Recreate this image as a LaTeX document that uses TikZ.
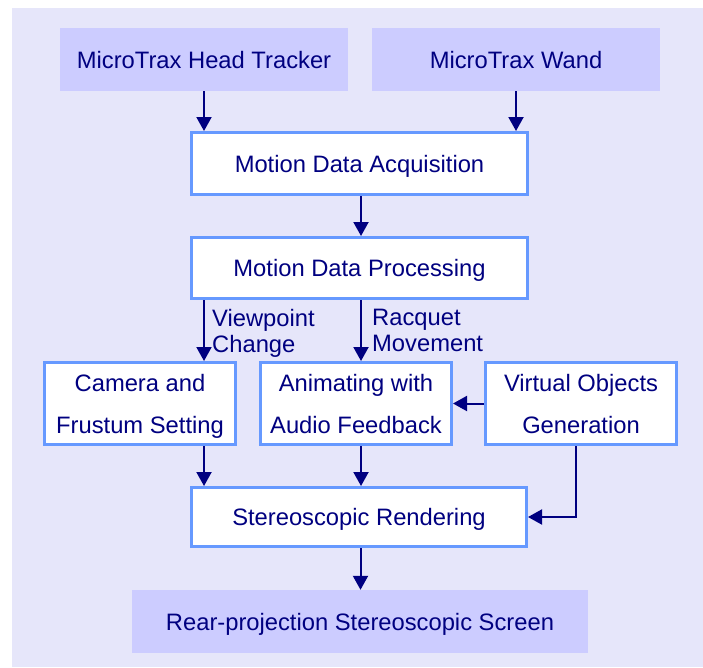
\documentclass[tikz,border=0pt]{standalone}
\usepackage{fontspec}
\setmainfont{Liberation Sans}
\usetikzlibrary{arrows.meta}
\definecolor{pagebg}{RGB}{230,230,250}
\definecolor{devfill}{RGB}{204,204,255}
\definecolor{boxline}{RGB}{102,153,255}
\definecolor{ink}{RGB}{0,0,128}
\tikzset{
  device/.style={fill=devfill, draw=none, text=ink, inner sep=0pt,
    font=\fontsize{23.75}{26}\selectfont, text height=17pt, text depth=0pt},
  stage/.style={fill=white, draw=boxline, line width=3pt, text=ink, inner sep=0pt,
    font=\fontsize{23.75}{26}\selectfont, text height=17pt, text depth=0pt},
  stage2/.style={fill=white, draw=boxline, line width=3pt, text=ink, inner sep=0pt,
    font=\fontsize{23.75}{42}\selectfont, align=center, text depth=-2pt},
  flowlabel/.style={text=ink, inner sep=0pt, anchor=north west, align=left,
    font=\fontsize{23.75}{26}\selectfont},
  arr/.style={draw=ink, line width=2pt, -{Triangle[width=15pt,length=14pt]}}
}
\begin{document}
\begin{tikzpicture}[x=1pt,y=-1pt]
  \useasboundingbox (0,0) rectangle (703,667);
  \fill[pagebg] (12,8) rectangle (703,667);

  % input devices
  \node[device, minimum width=288, minimum height=63] (head) at (204,59.5) {MicroTrax Head Tracker};
  \node[device, minimum width=288, minimum height=63] (wand) at (516,59.5) {MicroTrax Wand};

  % processing chain
  \node[stage, minimum width=336, minimum height=62] (acq) at (359.5,163.5) {Motion Data Acquisition};
  \node[stage, minimum width=336, minimum height=61] (proc) at (359.5,268) {Motion Data Processing};
  \node[stage2, minimum width=191, minimum height=82] (cam) at (140,403.5) {Camera and\\Frustum Setting};
  \node[stage2, minimum width=191, minimum height=82] (anim) at (356,403.5) {Animating with\\Audio Feedback};
  \node[stage2, minimum width=191, minimum height=82] (virt) at (581,403.5) {Virtual Objects\\Generation};
  \node[stage, minimum width=335, minimum height=59] (stereo) at (359,517) {Stereoscopic Rendering};

  % output device
  \node[device, minimum width=456, minimum height=63] (screen) at (360,621.5) {Rear-projection Stereoscopic Screen};

  % connectors
  \draw[arr] (head.south) -- (head.south |- acq.north);
  \draw[arr] (wand.south) -- (wand.south |- acq.north);
  \draw[arr] ([xshift=1.5pt]acq.south) -- ([xshift=1.5pt]proc.north);
  \draw[arr] (proc.south -| head.south) -- (cam.north -| head.south);
  \draw[arr] ([xshift=1.5pt]proc.south) -- ([xshift=1.5pt]proc.south |- anim.north);
  \draw[arr] (virt.west) -- (anim.east);
  \draw[arr] (cam.south -| head.south) -- (stereo.north -| head.south);
  \draw[arr] ([xshift=1.5pt]proc.south |- anim.south) -- ([xshift=1.5pt]proc.south |- stereo.north);
  \draw[arr] ([xshift=-5pt]virt.south) |- (stereo.east);
  \draw[arr] ([xshift=1.5pt]stereo.south) -- ([xshift=1.5pt]stereo.south |- screen.north);

  % connector labels
  \node[flowlabel] (lview) at (212,309) {Viewpoint\\Change};
  \node[flowlabel] (lracq) at (372,309) {Racquet\\Movement};
\end{tikzpicture}
\end{document}
